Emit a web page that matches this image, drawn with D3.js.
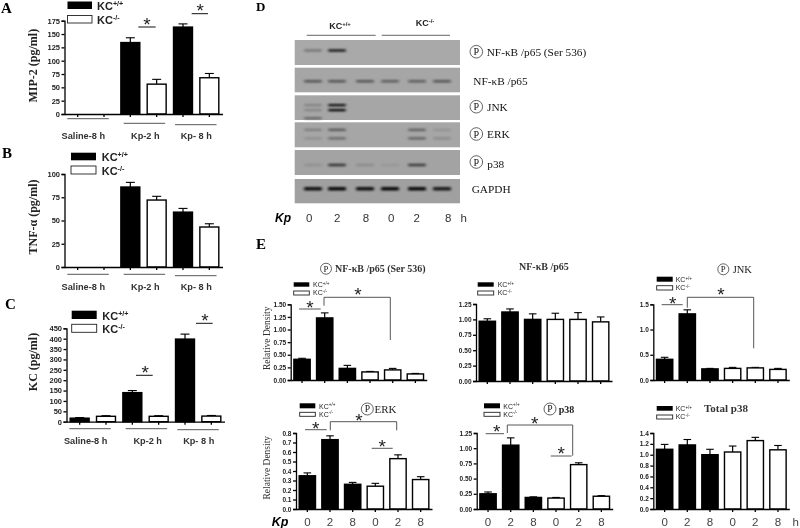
<!DOCTYPE html>
<html>
<head>
<meta charset="utf-8">
<script src="https://cdn.jsdelivr.net/npm/d3@7"></script>
<style>
  html, body { margin: 0; padding: 0; background: #fff; }
  svg { display: block; }
  .sans { font-family: "Liberation Sans", Arial, sans-serif; }
  .serif { font-family: "Liberation Serif", "Times New Roman", serif; }
</style>
</head>
<body>
<svg id="chart" width="800" height="528"></svg>
<script>
// cytokine panels A-C
const groupLabels = ['Saline-8 h', 'Kp-2 h', 'Kp- 8 h'];
const mip2Values = [0, 0, 134, 56, 163, 68];
const mip2Tops = [0, 0, 143, 65, 169, 76];
const tnfValues = [0, 0, 86, 72, 59, 43];
const tnfTops = [0, 0, 91, 76, 63, 46.5];
const kcValues = [17, 26, 140, 26, 398, 27];
const kcTops = [20, 29, 150, 29, 422, 30];

// densitometry panels E
const hours = ['0', '2', '8', '0', '2', '8'];
const pNfkbValues = [0.41, 1.23, 0.23, 0.16, 0.20, 0.12];
const pNfkbTops = [0.43, 1.33, 0.29, 0.17, 0.23, 0.13];
const nfkbValues = [0.97, 1.12, 1.00, 1.00, 1.00, 0.96];
const nfkbTops = [1.01, 1.17, 1.09, 1.10, 1.11, 1.04];
const pJnkValues = [0.41, 1.31, 0.22, 0.23, 0.24, 0.21];
const pJnkTops = [0.45, 1.39, 0.23, 0.25, 0.25, 0.23];
const pErkValues = [0.35, 0.73, 0.26, 0.24, 0.53, 0.31];
const pErkTops = [0.38, 0.77, 0.28, 0.27, 0.57, 0.34];
const pP38Values = [0.25, 1.05, 0.19, 0.18, 0.73, 0.21];
const pP38Tops = [0.28, 1.17, 0.20, 0.19, 0.76, 0.22];
const totalP38Values = [1.10, 1.18, 1.00, 1.05, 1.26, 1.09];
const totalP38Tops = [1.19, 1.28, 1.10, 1.16, 1.32, 1.17];

// western blot band darkness per lane, one list per band line
const blotLanes = [0, 1, 2, 3, 4, 5];
const blotPNfkb = [[0.3, 0.85, 0, 0, 0, 0]];
const blotNfkb = [[0.5, 0.5, 0.5, 0.45, 0.45, 0.5]];
const blotPJnk = [[0.22, 0.95, 0, 0, 0, 0], [0.2, 1, 0, 0, 0, 0], [0.45, 0, 0, 0, 0, 0]];
const blotPErk = [[0.25, 0.5, 0, 0, 0.45, 0.12], [0.15, 0.4, 0, 0, 0.45, 0.18]];
const blotPP38 = [[0.12, 0.7, 0.15, 0.08, 0.65, 0]];
const blotGapdh = [[0.9, 0.95, 0.9, 0.95, 0.95, 0.85]];

const svg = d3.select('#chart');
const defs = svg.append('defs');
defs.append('filter').attr('id', 'soft').attr('x', '-30%').attr('y', '-100%').attr('width', '160%').attr('height', '300%')
  .append('feGaussianBlur').attr('stdDeviation', '1.8 0.9');
defs.append('filter').attr('id', 'ink').attr('x', '-5%').attr('y', '-5%').attr('width', '110%').attr('height', '110%')
  .append('feGaussianBlur').attr('stdDeviation', 0.3);

const root = svg.append('g').attr('filter', 'url(#ink)');
root.append('rect').attr('width', 800).attr('height', 528).attr('fill', '#fff');

function label(x, y, str, size, cls, opts = {}) {
  return root.append('text')
    .attr('class', cls)
    .attr('x', x).attr('y', y)
    .attr('font-size', size)
    .attr('font-weight', opts.weight || 'normal')
    .attr('font-style', opts.style || 'normal')
    .attr('text-anchor', opts.anchor || 'start')
    .attr('fill', opts.fill || '#111')
    .text(str);
}

function rotLabel(x, y, str, size, weight, fill) {
  root.append('text')
    .attr('class', 'serif')
    .attr('transform', `translate(${x},${y}) rotate(-90)`)
    .attr('font-size', size)
    .attr('font-weight', weight)
    .attr('text-anchor', 'middle')
    .attr('fill', fill)
    .text(str);
}

function hline(x1, x2, y, color = '#111', w = 1) {
  root.append('line').attr('x1', x1).attr('x2', x2).attr('y1', y).attr('y2', y)
    .attr('stroke', color).attr('stroke-width', w);
}

// asterisk, cy is where the glyph centre should land
function star(x, cy, size = 19) {
  label(x, cy + size * 0.5, '*', size, 'sans', { anchor: 'middle', fill: '#222' });
}

function bracket(x1, x2, top, y1, y2) {
  root.append('path')
    .attr('d', d3.line()([[x1, y1], [x1, top], [x2, top], [x2, y2]]))
    .attr('fill', 'none').attr('stroke', '#444').attr('stroke-width', 0.9);
}

function circledP(cx, cy, r) {
  root.append('circle').attr('cx', cx).attr('cy', cy).attr('r', r)
    .attr('fill', 'none').attr('stroke', '#222').attr('stroke-width', 0.7);
  label(cx, cy + r * 0.58, 'P', r * 1.6, 'serif', { anchor: 'middle' });
}

function legend(x, x2, y1, y2, y3, y4, textX, size) {
  root.append('rect').attr('x', x).attr('y', y1).attr('width', x2 - x).attr('height', y2 - y1).attr('fill', '#000');
  root.append('rect').attr('x', x).attr('y', y3).attr('width', x2 - x).attr('height', y4 - y3)
    .attr('fill', '#fff').attr('stroke', '#222').attr('stroke-width', 0.9);
  [['+/+', y2], ['-/-', y4]].forEach(([sup, y]) => {
    const t = label(textX, y + size * 0.05, 'KC', size, 'sans', { weight: size > 9 ? 'bold' : 'normal', fill: '#222' });
    t.append('tspan').attr('dy', -size * 0.35).attr('font-size', size * 0.65).text(sup);
  });
}

function barPanel(p) {
  const x = d3.scaleBand().domain(d3.range(p.values.length)).range([p.x0, p.x1]);
  const y = d3.scaleLinear().domain([0, p.yMax]).range([p.y0, p.yTop]);
  const barW = x.step() * p.barFrac;
  const g = root.append('g');

  const bars = g.selectAll('.bar').data(p.values.map((v, i) => ({ v, top: p.tops[i], i }))).enter()
    .append('g').attr('class', 'bar').filter(d => d.v > 0);
  const cx = d => x(d.i) + x.step() / 2;

  // error bars go up only
  bars.append('line')
    .attr('x1', cx).attr('x2', cx)
    .attr('y1', d => y(d.v)).attr('y2', d => y(d.top))
    .attr('stroke', '#000').attr('stroke-width', 1.2);
  bars.append('line')
    .attr('x1', d => cx(d) - p.cap).attr('x2', d => cx(d) + p.cap)
    .attr('y1', d => y(d.top)).attr('y2', d => y(d.top))
    .attr('stroke', '#000').attr('stroke-width', 1.1);
  bars.append('rect')
    .attr('x', d => cx(d) - barW / 2)
    .attr('width', barW)
    .attr('y', d => y(d.v))
    .attr('height', d => y(0) - y(d.v))
    .attr('fill', d => p.isBlack(d.i) ? '#000' : '#fff')
    .attr('stroke', '#000').attr('stroke-width', 1.4);

  const yAxis = d3.axisLeft(y).tickValues(p.ticks).tickFormat(d3.format(p.fmt)).tickSize(3).tickPadding(1.5);
  const ya = g.append('g').attr('transform', `translate(${p.x0},0)`).call(yAxis);
  ya.selectAll('text').attr('class', 'sans').attr('font-size', p.tickSize).attr('font-weight', 'bold').attr('fill', '#222');
  ya.selectAll('path,line').attr('stroke', '#000').attr('stroke-width', 1.3);

  const xAxis = d3.axisBottom(x).tickSize(3).tickSizeOuter(0)
    .tickFormat(i => p.xLabels ? p.xLabels[i] : '').tickPadding(5.8);
  const xa = g.append('g').attr('transform', `translate(0,${p.y0})`).call(xAxis);
  xa.selectAll('text').attr('class', 'sans').attr('font-size', 11.5).attr('fill', '#444');
  xa.selectAll('path,line').attr('stroke', '#000').attr('stroke-width', 1.3);
}

const cytokineBar = { tickSize: 7.5, barFrac: 0.72, cap: 4.5, isBlack: i => i % 2 === 0 };
barPanel({ ...cytokineBar, values: mip2Values, tops: mip2Tops, x0: 64.5, x1: 222.5, y0: 114, yTop: 20.7, yMax: 175,
  ticks: d3.range(0, 176, 25), fmt: 'd' });
barPanel({ ...cytokineBar, values: tnfValues, tops: tnfTops, x0: 64.5, x1: 222.5, y0: 267, yTop: 174, yMax: 100,
  ticks: d3.range(0, 101, 25), fmt: 'd' });
barPanel({ ...cytokineBar, values: kcValues, tops: kcTops, x0: 66.5, x1: 224.5, y0: 421.7, yTop: 328.3, yMax: 450,
  ticks: d3.range(0, 451, 50), fmt: 'd' });

// E
const ePanels = [
  { values: pNfkbValues, tops: pNfkbTops, x0: 290.7, y0: 380, yTop: 304.3, yMax: 1.5, ticks: d3.range(0, 7).map(i => i * 0.25), fmt: '.2f' },
  { values: nfkbValues, tops: nfkbTops, x0: 476, y0: 381, yTop: 304, yMax: 1.25, ticks: d3.range(0, 6).map(i => i * 0.25), fmt: '.2f' },
  { values: pJnkValues, tops: pJnkTops, x0: 653.3, y0: 380, yTop: 304.3, yMax: 1.5, ticks: [0, 0.5, 1, 1.5], fmt: '.1f' },
  { values: pErkValues, tops: pErkTops, x0: 296, y0: 509, yTop: 433, yMax: 0.8, ticks: d3.range(0, 9).map(i => i / 10), fmt: '.1f', xLabels: hours },
  { values: pP38Values, tops: pP38Tops, x0: 476.7, y0: 509, yTop: 433, yMax: 1.25, ticks: d3.range(0, 6).map(i => i * 0.25), fmt: '.2f', xLabels: hours },
  { values: totalP38Values, tops: totalP38Tops, x0: 653.3, y0: 509, yTop: 433, yMax: 1.4, ticks: d3.range(0, 8).map(i => i / 5), fmt: '.1f', xLabels: hours }
];
ePanels.forEach(p => barPanel({ ...p, x1: p.x0 + 136, tickSize: 6.5, barFrac: 0.72, cap: 3.8, isBlack: i => i < 3 }));

// panel letters
[['A', 1, 13, 15], ['B', 2, 158, 15], ['C', 5, 309, 15], ['D', 256, 11, 13], ['E', 256, 249, 15]].forEach(([s, x, y, size]) =>
  label(x, y, s, size, 'serif', { weight: 'bold', fill: '#000' }));

// A-C text
rotLabel(37, 65.7, 'MIP-2 (pg/ml)', 12, 'bold', '#222');
rotLabel(37, 217, 'TNF-α (pg/ml)', 12, 'bold', '#222');
rotLabel(37, 362, 'KC  (pg/ml)', 12, 'bold', '#222');

legend(67.5, 92, 1.5, 9, 15.5, 23, 97, 11);
legend(71, 96, 152.7, 160.3, 166, 174, 101.7, 11);
legend(71.7, 96.7, 310.7, 319, 324.3, 332.3, 102.3, 11);

const groupRows = [
  { base: 138.7, lines: [118.7, 123.3, 124.7], lx: [67.3, 123.7, 175], tx: [83.3, 145.3, 196.3] },
  { base: 290, lines: [274.3, 274.3, 275.7], lx: [67.3, 123.7, 175], tx: [83.3, 145.3, 196.3] },
  { base: 444, lines: [428.7, 428.7, 429.7], lx: [69.3, 125.7, 177.3], tx: [85.7, 147.7, 198.7] }
];
groupRows.forEach(r => groupLabels.forEach((s, i) => {
  hline(r.lx[i], r.lx[i] + 41.5, r.lines[i], '#444', 0.9);
  label(r.tx[i], r.base, s, 9.2, 'sans', { weight: 'bold', anchor: 'middle', fill: '#333' });
}));

hline(138.3, 155.7, 27); star(147, 21);
hline(191.7, 208, 13.7); star(200.3, 7.5);
hline(136, 152.7, 375.3); star(145.3, 369);
hline(196, 212.7, 323.3); star(205, 317);

// D: western blot
const blotX = [294.7, 460];
const blotRows = [
  { y: 40, h: 25, lines: blotPNfkb, fracs: [0.42], bg: '#a9a9a9' },
  { y: 67.7, h: 24.6, lines: blotNfkb, fracs: [0.55], bg: '#a6a6a6' },
  { y: 95.3, h: 24.7, lines: blotPJnk, fracs: [0.4, 0.6, 0.93], bg: '#a6a6a6' },
  { y: 122.3, h: 25, lines: blotPErk, fracs: [0.3, 0.64], bg: '#a6a6a6' },
  { y: 150, h: 25, lines: blotPP38, fracs: [0.6], bg: '#a3a3a3' },
  { y: 179, h: 24.3, lines: blotGapdh, fracs: [0.4], bg: '#a0a0a0' }
];
const laneCenters = [313, 337, 365, 390, 417, 442];
const laneX = d3.scaleOrdinal().domain(blotLanes).range(laneCenters);
const laneH = [2.6, 2.4, 2.2, 2.2, 2.4, 3.4];
blotRows.forEach((row, ri) => {
  root.append('rect').attr('x', blotX[0]).attr('y', row.y).attr('width', blotX[1] - blotX[0]).attr('height', row.h).attr('fill', row.bg);
  const by = d3.scaleLinear().domain([0, 1]).range([row.y, row.y + row.h]);
  row.lines.forEach((line, li) => {
    root.append('g').attr('filter', 'url(#soft)').selectAll('rect')
      .data(line.map((v, i) => ({ v, i })).filter(d => d.v > 0)).enter()
      .append('rect')
      .attr('x', d => laneX(d.i) - 9)
      .attr('width', 18)
      .attr('y', by(row.fracs[li]) - laneH[ri] / 2)
      .attr('height', laneH[ri])
      .attr('rx', 1.2)
      .attr('fill', '#000')
      .attr('opacity', d => d.v);
  });
});

const kcHead1 = label(340, 29, 'KC', 9, 'sans', { weight: 'bold', anchor: 'middle', fill: '#222' });
kcHead1.append('tspan').attr('dy', -3).attr('font-size', 6).text('+/+');
const kcHead2 = label(425, 26, 'KC', 9, 'sans', { weight: 'bold', anchor: 'middle', fill: '#222' });
kcHead2.append('tspan').attr('dy', -3).attr('font-size', 6).text('-/-');
hline(306.7, 375.7, 35.3, '#666', 1);
hline(381.7, 450, 35.3, '#666', 1);

circledP(476.3, 51.7, 6.3);
label(486.7, 55.5, 'NF-κB /p65 (Ser 536)', 11.3, 'serif');
label(473.3, 85, 'NF-κB /p65', 11.3, 'serif');
circledP(476.3, 106.7, 6.3);
label(487, 111, 'JNK', 11.3, 'serif');
circledP(476.3, 134, 6.3);
label(487, 138, 'ERK', 11.3, 'serif');
circledP(476.3, 162, 6.3);
label(487.3, 167.7, 'p38', 11.3, 'serif');
label(471.7, 193.3, 'GAPDH', 11.3, 'serif');

label(283, 221.7, 'Kp', 12, 'sans', { weight: 'bold', style: 'italic', anchor: 'middle', fill: '#000' });
[309.3, 337.3, 366, 391.3, 416.7, 448.3].forEach((x, i) =>
  label(x, 221.7, hours[i], 11.5, 'sans', { anchor: 'middle', fill: '#333' }));
label(463.7, 221.7, 'h', 11.5, 'sans', { anchor: 'middle', fill: '#333' });

// E text
circledP(326, 268.7, 5.5);
label(335, 272.3, 'NF-κB /p65 (Ser 536)', 10, 'serif', { weight: 'bold', fill: '#333' });
label(519, 270, 'NF-κB /p65', 10, 'serif', { weight: 'bold', fill: '#333' });
circledP(723.3, 269.3, 5.5);
label(732.7, 272.5, 'JNK', 10.5, 'serif', { fill: '#222' });
circledP(367.3, 409, 6);
label(374.5, 412.5, 'ERK', 11, 'serif', { fill: '#222' });
circledP(550, 409, 6);
label(558.7, 412.5, 'p38', 10, 'serif', { weight: 'bold', fill: '#222' });
label(704, 411.7, 'Total p38', 11, 'serif', { weight: 'bold', fill: '#333' });

rotLabel(270, 338.3, 'Relative Density', 9.5, 'normal', '#333');
rotLabel(270, 467.7, 'Relative Density', 9.5, 'normal', '#333');

legend(293.7, 309.3, 282.3, 286.7, 291, 295, 313, 7);
legend(477.7, 493.7, 282.3, 286.7, 291, 295, 497.7, 7);
legend(656.7, 672.7, 276.7, 281.7, 285.7, 290, 675.7, 7);
legend(299.7, 315.3, 403.3, 408.3, 412.3, 416.3, 319, 7);
legend(484, 500, 403.3, 408.3, 412.3, 416.3, 503.3, 7);
legend(656.7, 672.7, 406, 410.7, 415, 419, 675.7, 7);

label(280, 526, 'Kp', 12.5, 'sans', { weight: 'bold', style: 'italic', anchor: 'middle', fill: '#000' });
label(799, 526, 'h', 11.5, 'sans', { anchor: 'end', fill: '#444' });

// significance marks
hline(299, 320.7, 309, '#444', 0.9); star(310, 304.5);
bracket(324, 390.3, 297.3, 305.7, 340); star(358, 291);
hline(661.7, 682.7, 304.7, '#444', 0.9); star(672.7, 300);
bracket(687.3, 753.7, 297.3, 307.7, 348.3); star(721, 291);
hline(305, 326.7, 429.7, '#444', 0.9); star(315.7, 425);
bracket(330.3, 396.7, 421.7, 430.3, 430.3); star(359, 417);
hline(371.7, 392.7, 448.3, '#444', 0.9); star(382.3, 443.5);
hline(485.7, 504, 433.7, '#444', 0.9); star(496.7, 428.5);
bracket(507.3, 572.7, 425, 433, 455.7); star(534.7, 420);
hline(550.7, 571.7, 456, '#444', 0.9); star(561.3, 450.5);
</script>
</body>
</html>
